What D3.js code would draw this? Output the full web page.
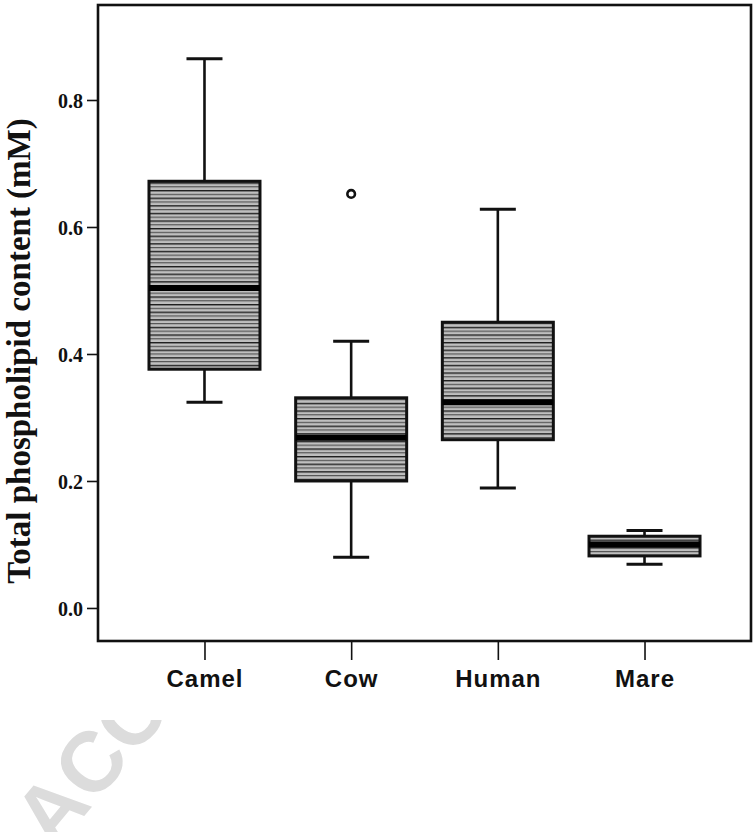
<!DOCTYPE html>
<html>
<head>
<meta charset="utf-8">
<script src="https://cdn.jsdelivr.net/npm/d3@7"></script>
<style>
  html, body { margin: 0; padding: 0; background: #fff; }
  svg { display: block; }
</style>
</head>
<body>
<svg id="chart" width="754" height="832"></svg>
<script>
// ---- data ----
const categories = ["Camel", "Cow", "Human", "Mare"];
const whiskerLow  = [0.324, 0.080, 0.189, 0.069];
const q1Values    = [0.376, 0.200, 0.265, 0.082];
const medians     = [0.504, 0.268, 0.324, 0.100];
const q3Values    = [0.672, 0.331, 0.450, 0.113];
const whiskerHigh = [0.865, 0.420, 0.628, 0.122];
const outlierCats = ["Cow"];
const outlierVals = [0.652];
const yTicks = [0.0, 0.2, 0.4, 0.6, 0.8];
const yLabel = "Total phospholipid content (mM)";
const watermark = "ACC";

const svg = d3.select("#chart");
const frame = {left: 98, top: 5, right: 751, bottom: 641};

const x = d3.scalePoint().domain(categories).range([frame.left, frame.right]).padding(0.726);
const y = d3.scaleLinear().domain([-0.052, 0.9496]).range([frame.bottom, frame.top]);

const defs = svg.append("defs");
defs.append("clipPath").attr("id", "wmclip")
  .append("rect").attr("x", 0).attr("y", 720).attr("width", 754).attr("height", 112);
const pat = defs.append("pattern").attr("id", "stripes")
  .attr("patternUnits", "userSpaceOnUse").attr("width", 8).attr("height", 7.6);
pat.append("rect").attr("width", 8).attr("height", 7.6).attr("fill", "#bfbfbf");
pat.append("rect").attr("y", 0).attr("width", 8).attr("height", 1.4).attr("fill", "#1e1e1e");
pat.append("rect").attr("y", 3.8).attr("width", 8).attr("height", 1.2).attr("fill", "#555");

// watermark (visible only below the chart image)
svg.append("g").attr("clip-path", "url(#wmclip)")
  .append("text")
  .attr("transform", "translate(54,852) rotate(-50)")
  .attr("font-family", "Liberation Sans, Arial, sans-serif")
  .attr("font-weight", "bold")
  .attr("font-size", 85)
  .attr("fill", "#dcdcdc")
  .text(watermark);

// frame
svg.append("rect")
  .attr("x", frame.left).attr("y", frame.top)
  .attr("width", frame.right - frame.left).attr("height", frame.bottom - frame.top)
  .attr("fill", "#fff").attr("stroke", "#111").attr("stroke-width", 2.6);

// y axis ticks
const yAxis = d3.axisLeft(y).tickValues(yTicks).tickFormat(d3.format(".1f")).tickSize(11).tickPadding(4);
const gy = svg.append("g").attr("transform", `translate(${frame.left},0)`).call(yAxis);
gy.select(".domain").remove();
gy.selectAll(".tick line").attr("stroke", "#111").attr("stroke-width", 1.6);
gy.selectAll(".tick text")
  .attr("font-family", "Liberation Serif, Times New Roman, serif")
  .attr("font-weight", "bold").attr("font-size", 20).attr("fill", "#111")
  .attr("dy", "0.36em");

// x axis ticks
const xAxis = d3.axisBottom(x).tickSize(19).tickPadding(10);
const gx = svg.append("g").attr("transform", `translate(0,${frame.bottom})`).call(xAxis);
gx.select(".domain").remove();
gx.selectAll(".tick line").attr("stroke", "#111").attr("stroke-width", 1.6);
gx.selectAll(".tick text")
  .attr("font-family", "Liberation Sans, Arial, sans-serif")
  .attr("font-weight", "bold").attr("font-size", 24).attr("fill", "#111")
  .attr("letter-spacing", 1);

// y label
svg.append("text")
  .attr("transform", `translate(30,${351}) rotate(-90)`)
  .attr("text-anchor", "middle")
  .attr("font-family", "Liberation Serif, Times New Roman, serif")
  .attr("font-weight", "bold").attr("font-size", 33).attr("fill", "#111")
  .text(yLabel);

// boxes
const boxW = 111, capW = 36;
const data = categories.map((c, i) => ({
  cat: c, lo: whiskerLow[i], q1: q1Values[i], med: medians[i], q3: q3Values[i], hi: whiskerHigh[i]
}));
const g = svg.append("g");
const bx = g.selectAll("g.box").data(data).enter().append("g").attr("class", "box");

// whiskers
bx.append("line")
  .attr("x1", d => x(d.cat)).attr("x2", d => x(d.cat))
  .attr("y1", d => y(d.hi)).attr("y2", d => y(d.q3))
  .attr("stroke", "#111").attr("stroke-width", 2.6);
bx.append("line")
  .attr("x1", d => x(d.cat)).attr("x2", d => x(d.cat))
  .attr("y1", d => y(d.q1)).attr("y2", d => y(d.lo))
  .attr("stroke", "#111").attr("stroke-width", 2.6);
bx.append("line")
  .attr("x1", d => x(d.cat) - capW / 2).attr("x2", d => x(d.cat) + capW / 2)
  .attr("y1", d => y(d.hi)).attr("y2", d => y(d.hi))
  .attr("stroke", "#111").attr("stroke-width", 3);
bx.append("line")
  .attr("x1", d => x(d.cat) - capW / 2).attr("x2", d => x(d.cat) + capW / 2)
  .attr("y1", d => y(d.lo)).attr("y2", d => y(d.lo))
  .attr("stroke", "#111").attr("stroke-width", 3);

// box
bx.append("rect")
  .attr("x", d => x(d.cat) - boxW / 2).attr("width", boxW)
  .attr("y", d => y(d.q3)).attr("height", d => y(d.q1) - y(d.q3))
  .attr("fill", "url(#stripes)")
  .attr("stroke", "#111").attr("stroke-width", 3);

// median
bx.append("line")
  .attr("x1", d => x(d.cat) - boxW / 2).attr("x2", d => x(d.cat) + boxW / 2)
  .attr("y1", d => y(d.med)).attr("y2", d => y(d.med))
  .attr("stroke", "#000").attr("stroke-width", 6);

// outliers
g.selectAll("circle.out").data(outlierVals).enter().append("circle")
  .attr("class", "out")
  .attr("cx", (d, i) => x(outlierCats[i]))
  .attr("cy", d => y(d))
  .attr("r", 3.8)
  .attr("fill", "#fff").attr("stroke", "#111").attr("stroke-width", 2.6);
</script>
</body>
</html>
